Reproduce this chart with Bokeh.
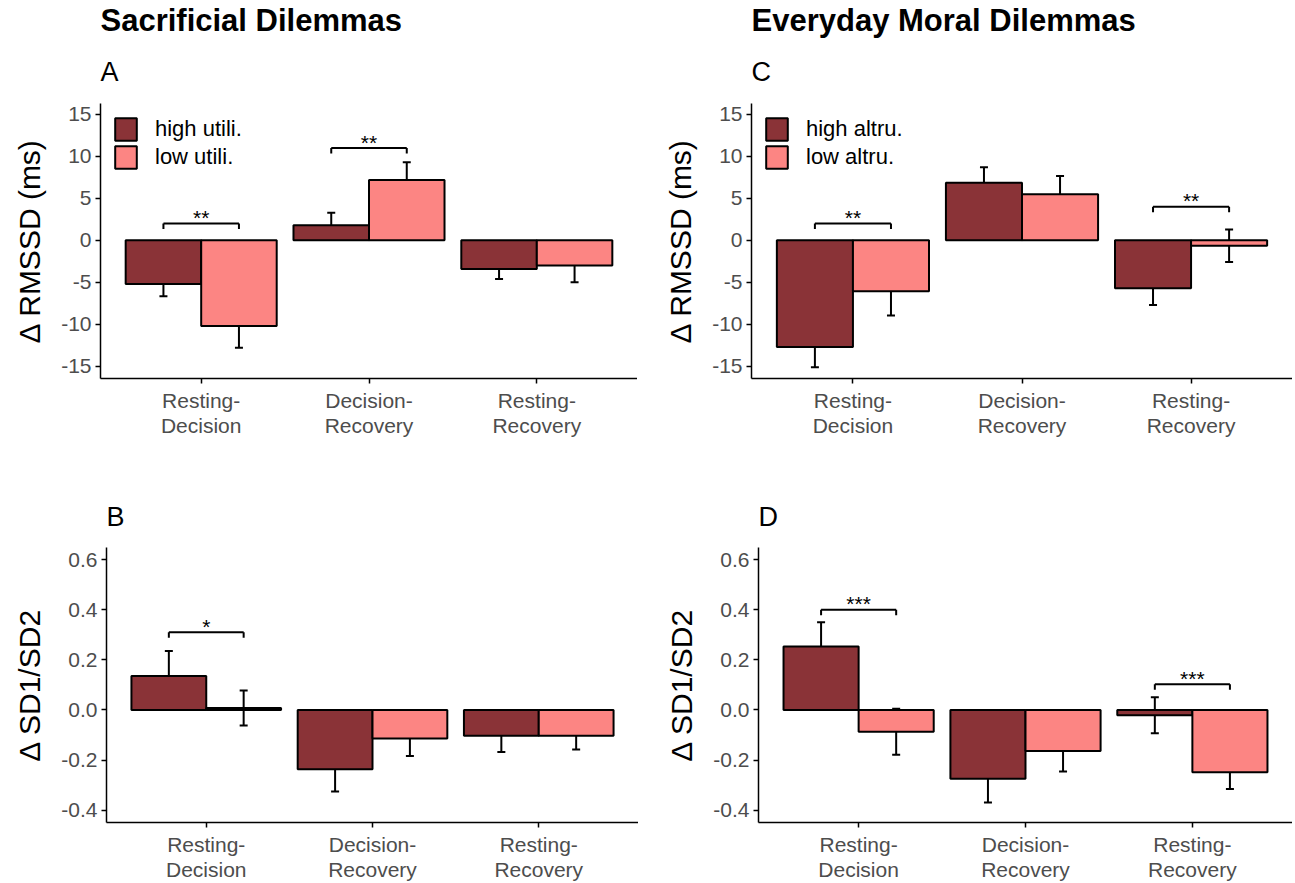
from bokeh.plotting import figure
from bokeh.models import (Range1d, FactorRange, FixedTicker, Legend, LegendItem, Title,
                          ColumnDataSource, PrintfTickFormatter)
from bokeh.transform import dodge
from bokeh.layouts import column, row
from bokeh.core.properties import value
from bokeh.embed import file_html
from bokeh.resources import INLINE

# ---------------- data ----------------
categories = ["Resting-\nDecision", "Decision-\nRecovery", "Resting-\nRecovery"]

# Panel A: Sacrificial dilemmas, delta RMSSD (ms)
a_high = [-5.2, 1.8, -3.4]
a_high_se = [1.45, 1.5, 1.2]
a_low = [-10.2, 7.2, -3.0]
a_low_se = [2.6, 2.1, 2.0]
a_groups = ["high utili.", "low utili."]
a_sig_cat = ["Resting-\nDecision", "Decision-\nRecovery"]
a_sig_y = [2.0, 11.0]
a_sig_lab = ["**", "**"]

# Panel B: Sacrificial dilemmas, delta SD1/SD2
b_high = [0.135, -0.237, -0.103]
b_high_se = [0.10, 0.088, 0.065]
b_low = [0.008, -0.114, -0.103]
b_low_se = [0.07, 0.07, 0.055]
b_sig_cat = ["Resting-\nDecision"]
b_sig_y = [0.31]
b_sig_lab = ["*"]

# Panel C: Everyday moral dilemmas, delta RMSSD (ms)
c_high = [-12.7, 6.85, -5.7]
c_high_se = [2.4, 1.85, 2.0]
c_low = [-6.05, 5.48, -0.65]
c_low_se = [2.9, 2.2, 1.93]
c_groups = ["high altru.", "low altru."]
c_sig_cat = ["Resting-\nDecision", "Resting-\nRecovery"]
c_sig_y = [2.0, 4.0]
c_sig_lab = ["**", "**"]

# Panel D: Everyday moral dilemmas, delta SD1/SD2
d_high = [0.253, -0.274, -0.021]
d_high_se = [0.097, 0.095, 0.072]
d_low = [-0.087, -0.164, -0.249]
d_low_se = [0.092, 0.082, 0.066]
d_sig_cat = ["Resting-\nDecision", "Resting-\nRecovery"]
d_sig_y = [0.40, 0.102]
d_sig_lab = ["***", "***"]

rmssd_ticks = [-15, -10, -5, 0, 5, 10, 15]
sd_ticks = [-0.4, -0.2, 0.0, 0.2, 0.4, 0.6]

# ---------------- style ----------------
FONT = "Liberation Sans"
HIGH_COLOR = "#8A3337"
LOW_COLOR = "#FC8583"
TICK_GREY = "#4D4D4D"
HALF = 0.225
BAR_W = 0.45


def style_title(t, size, bold, standoff):
    t.text_font = FONT
    t.text_font_size = size
    t.text_font_style = "bold" if bold else "normal"
    t.text_color = "black"
    t.align = "left"
    t.standoff = standoff


def make_panel(letter, header, ylabel, high, high_se, low, low_se, yrange, yticks, fmt,
               sig_cat, sig_y, sig_lab, groups, frame_w, frame_h, bl, br, bt, bb,
               letter_standoff, header_standoff):
    p = figure(
        x_range=FactorRange(factors=categories, range_padding=0.2 / 3,
                            range_padding_units="percent"),
        y_range=Range1d(*yrange),
        frame_width=frame_w, frame_height=frame_h,
        min_border_left=bl, min_border_right=br, min_border_top=bt, min_border_bottom=bb,
        output_backend="svg", toolbar_location=None,
        title=header if header is not None else letter,
    )
    src = ColumnDataSource(dict(
        cat=categories,
        high=high, low=low,
        high_lo=[v - s for v, s in zip(high, high_se)],
        high_hi=[v + s for v, s in zip(high, high_se)],
        low_lo=[v - s for v, s in zip(low, low_se)],
        low_hi=[v + s for v, s in zip(low, low_se)],
    ))
    xh = dodge("cat", -HALF, range=p.x_range)
    xl = dodge("cat", HALF, range=p.x_range)

    # error bars (drawn first so the bars hide the inner half)
    for xx, lo, hi in ((xh, "high_lo", "high_hi"), (xl, "low_lo", "low_hi")):
        p.segment(x0=xx, y0=lo, x1=xx, y1=hi, source=src, line_color="black", line_width=2)
        for yy in (lo, hi):
            p.scatter(x=xx, y=yy, source=src, marker="dash", size=8,
                      line_color="black", line_width=2)

    r_high = p.vbar(x=xh, top="high", bottom=0, width=BAR_W, source=src,
                    fill_color=HIGH_COLOR, line_color="black", line_width=2)
    r_low = p.vbar(x=xl, top="low", bottom=0, width=BAR_W, source=src,
                   fill_color=LOW_COLOR, line_color="black", line_width=2)

    # significance brackets
    tick = 0.02 * (yrange[1] - yrange[0])
    ssrc = ColumnDataSource(dict(cat=sig_cat, y=sig_y,
                                 yt=[v - tick for v in sig_y], lab=sig_lab))
    sxh = dodge("cat", -HALF, range=p.x_range)
    sxl = dodge("cat", HALF, range=p.x_range)
    p.segment(x0=sxh, y0="y", x1=sxl, y1="y", source=ssrc, line_color="black", line_width=2)
    p.segment(x0=sxh, y0="y", x1=sxh, y1="yt", source=ssrc, line_color="black", line_width=2)
    p.segment(x0=sxl, y0="y", x1=sxl, y1="yt", source=ssrc, line_color="black", line_width=2)
    p.text(x="cat", y="y", text="lab", source=ssrc, text_align="center",
           text_baseline="alphabetic", y_offset=-6, text_font=value(FONT),
           text_font_size="21px", text_color="black")

    if groups is not None:
        legend = Legend(items=[LegendItem(label=groups[0], renderers=[r_high]),
                               LegendItem(label=groups[1], renderers=[r_low])],
                        location="top_left")
        legend.border_line_color = None
        legend.background_fill_alpha = 0
        legend.glyph_width = 27
        legend.glyph_height = 28
        legend.label_height = 28
        legend.spacing = 0
        legend.padding = 2
        legend.margin = 12
        legend.label_standoff = 16
        legend.label_text_font = FONT
        legend.label_text_font_size = "22px"
        legend.label_text_color = "black"
        legend.label_text_baseline = "middle"
        p.add_layout(legend)

    # titles: header is the outer title, the panel letter sits next to the frame
    if header is not None:
        style_title(p.title, "31px", True, header_standoff)
        p.add_layout(Title(text=letter, text_font=FONT, text_font_size="27px",
                           text_font_style="normal", text_color="black", align="left",
                           standoff=letter_standoff), "above")
    else:
        style_title(p.title, "27px", False, letter_standoff)

    # axes
    p.xgrid.visible = False
    p.ygrid.visible = False
    p.outline_line_color = None
    for ax in (p.xaxis[0], p.yaxis[0]):
        ax.axis_line_color = "black"
        ax.axis_line_width = 1.5
        ax.major_tick_line_color = "black"
        ax.major_tick_line_width = 1.5
        ax.major_tick_out = 5
        ax.major_tick_in = 0
        ax.minor_tick_line_color = None
        ax.major_label_text_font = FONT
        ax.major_label_text_font_size = "21px"
        ax.major_label_text_color = TICK_GREY
    p.xaxis.major_label_standoff = 5
    p.xaxis.major_label_text_line_height = 1.1
    p.yaxis.ticker = FixedTicker(ticks=yticks)
    p.yaxis.formatter = PrintfTickFormatter(format=fmt)
    p.yaxis.major_label_standoff = 4
    p.yaxis.axis_label = ylabel
    p.yaxis.axis_label_text_font = FONT
    p.yaxis.axis_label_text_font_size = "30px"
    p.yaxis.axis_label_text_font_style = "normal"
    p.yaxis.axis_label_text_color = "black"
    p.yaxis.axis_label_standoff = 12
    return p


pA = make_panel("A", "Sacrificial Dilemmas", "Δ RMSSD (ms)", a_high, a_high_se, a_low, a_low_se,
                (-16.45, 16.3), rmssd_ticks, "%d", a_sig_cat, a_sig_y, a_sig_lab, a_groups,
                537, 275, 100, 0, 103, 82, 34, 0)
pC = make_panel("C", "Everyday Moral Dilemmas", "Δ RMSSD (ms)", c_high, c_high_se, c_low, c_low_se,
                (-16.45, 16.3), rmssd_ticks, "%d", c_sig_cat, c_sig_y, c_sig_lab, c_groups,
                541, 275, 114, 0, 103, 82, 34, 0)
pB = make_panel("B", None, "Δ SD1/SD2", b_high, b_high_se, b_low, b_low_se,
                (-0.449, 0.648), sd_ticks, "%.1f", b_sig_cat, b_sig_y, b_sig_lab, None,
                532, 275, 106, 0, 87, 56, 32, 0)
pD = make_panel("D", None, "Δ SD1/SD2", d_high, d_high_se, d_low, d_low_se,
                (-0.449, 0.648), sd_ticks, "%.1f", d_sig_cat, d_sig_y, d_sig_lab, None,
                534, 275, 120, 0, 87, 56, 32, 0)

layout = column(row(pA, pC), row(pB, pD))
open("out.html", "w").write(file_html(layout, INLINE))
